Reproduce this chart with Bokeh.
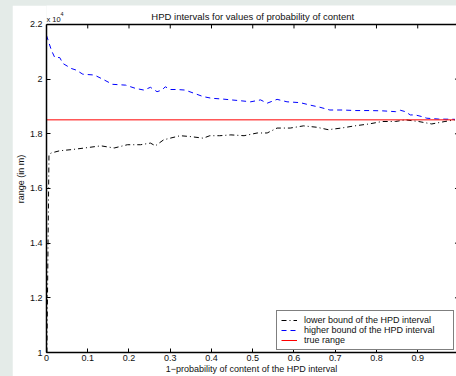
import math
from bokeh.plotting import figure
from bokeh.layouts import column
from bokeh.models import Range1d, FixedTicker, Label, Span
from bokeh.embed import file_html
from bokeh.resources import INLINE

# ---- data ----
hi_x = [0.000, 0.012, 0.020, 0.032, 0.040, 0.060, 0.072, 0.088, 0.116, 0.136,
        0.160, 0.192, 0.216, 0.236, 0.252, 0.268, 0.280, 0.288, 0.300, 0.316,
        0.336, 0.380, 0.400, 0.428, 0.448, 0.470, 0.495, 0.519, 0.535, 0.559,
        0.583, 0.615, 0.639, 0.663, 0.687, 0.718, 0.750, 0.782, 0.814, 0.846,
        0.858, 0.870, 0.882, 0.894, 0.910, 0.922, 0.950, 0.990]
hi_y = [21600, 21050, 20790, 20790, 20570, 20390, 20330, 20180, 20150, 20000,
        19810, 19780, 19660, 19600, 19700, 19540, 19600, 19720, 19620, 19620,
        19600, 19360, 19300, 19270, 19240, 19210, 19170, 19240, 19120, 19260,
        19170, 19140, 19050, 18970, 18870, 18870, 18850, 18850, 18840, 18810,
        18860, 18810, 18690, 18690, 18630, 18570, 18540, 18530]

lo_x = [0.001, 0.006, 0.012, 0.032, 0.060, 0.092, 0.132, 0.164, 0.196, 0.228,
        0.252, 0.264, 0.284, 0.300, 0.324, 0.348, 0.380, 0.396, 0.420, 0.447,
        0.479, 0.511, 0.535, 0.559, 0.591, 0.623, 0.655, 0.683, 0.715, 0.747,
        0.782, 0.814, 0.846, 0.870, 0.902, 0.934, 0.966, 0.990]
lo_y = [10000, 17250, 17300, 17380, 17420, 17480, 17560, 17480, 17600, 17600,
        17660, 17560, 17780, 17840, 17930, 17900, 17840, 17930, 17930, 17960,
        17930, 18030, 18030, 18210, 18210, 18290, 18240, 18150, 18210, 18290,
        18360, 18450, 18450, 18510, 18450, 18360, 18450, 18510]

true_x = [0.0, 0.99]
true_y = [18510, 18510]

x_ticks = [0.0, 0.1, 0.2, 0.3, 0.4, 0.5, 0.6, 0.7, 0.8, 0.9]
x_tick_labels = ["0", "0.1", "0.2", "0.3", "0.4", "0.5", "0.6", "0.7", "0.8", "0.9"]
y_ticks = [10000, 12000, 14000, 16000, 18000, 20000, 22000]
y_tick_labels = ["1", "1.2", "1.4", "1.6", "1.8", "2", "2.2"]
y_exponent = "4"

X_MIN, X_MAX = 0.0, 1.0          # axis limits of the original chart
Y_MIN, Y_MAX = 10000, 22000

FONT = "Liberation Sans"
INK = "#111111"

# frame runs to the top of the white panel, so the axes box top (Y_MAX)
# sits 19px below it (329px per 12000 units in the original)
y_top = Y_MAX + 19 * (Y_MAX - Y_MIN) / 329

p = figure(width=444, height=371, output_backend="svg", toolbar_location=None,
           x_range=Range1d(X_MIN, 0.994), y_range=Range1d(Y_MIN, y_top),
           min_border_left=30, min_border_right=0, min_border_top=0,
           min_border_bottom=23)
p.grid.visible = False
p.outline_line_color = None
p.background_fill_color = "white"
p.border_fill_color = "white"

def style_axis(ax):
    ax.axis_line_color = "black"
    ax.axis_line_width = 1.5
    ax.major_tick_in = 4
    ax.major_tick_out = 0
    ax.minor_tick_line_color = None
    ax.major_tick_line_color = "black"
    ax.major_label_text_font = FONT
    ax.major_label_text_font_size = "9px"
    ax.major_label_text_color = INK
    ax.axis_label_text_font = FONT
    ax.axis_label_text_font_size = "9px"
    ax.axis_label_text_font_style = "normal"
    ax.axis_label_text_color = INK

xa = p.xaxis[0]
style_axis(xa)
xa.ticker = FixedTicker(ticks=x_ticks)
xa.major_label_overrides = {t: l for t, l in zip(x_ticks, x_tick_labels)}
xa.axis_label = "1\u2212probability of content of the HPD interval"
xa.major_label_standoff = 2
xa.axis_label_standoff = 0

ya = p.yaxis[0]
style_axis(ya)
ya.ticker = FixedTicker(ticks=y_ticks)
ya.major_label_overrides = {t: l for t, l in zip(y_ticks, y_tick_labels)}
ya.axis_label = "range (in m)"
ya.major_label_standoff = 4
ya.axis_label_standoff = 1
ya.bounds = (Y_MIN, Y_MAX)

# top edge of the axes box with inward ticks
p.add_layout(Span(location=Y_MAX, dimension="width", line_color="black",
                  line_width=1.5))
p.ray(x=x_ticks, y=[Y_MAX] * len(x_ticks), length=4, length_units="screen",
      angle=-math.pi / 2, line_color="black", line_width=1)
# right edge ticks (box edge itself is just outside the window)
p.ray(x=[X_MAX] * len(y_ticks), y=y_ticks, length=4, length_units="screen",
      angle=math.pi, line_color="black", line_width=1)

p.line(lo_x, lo_y, color="black", line_width=1, line_dash="5 3 1 3",
       legend_label="lower bound of the HPD interval")
p.line(hi_x, hi_y, color="#0000ff", line_width=1, line_dash="5 4",
       legend_label="higher bound of the HPD interval")
p.line(true_x, true_y, color="#ff0000", line_width=1,
       legend_label="true range")

lg = p.legend[0]
lg.location = "bottom_right"
lg.margin = 2
lg.padding = 4
lg.spacing = 0
lg.border_line_color = "black"
lg.border_line_width = 1
lg.label_text_font = FONT
lg.label_text_font_size = "9px"
lg.label_text_color = INK
lg.label_height = 10
lg.label_width = 145
lg.glyph_height = 10
lg.glyph_width = 16
lg.label_standoff = 7
lg.background_fill_alpha = 1

# title and exponent drawn as labels above the axes box
p.add_layout(Label(x=(X_MIN + X_MAX) / 2, y=Y_MAX,
                   text="HPD intervals for values of probability of content",
                   text_font=FONT, text_font_size="9.5px", text_align="center",
                   text_baseline="alphabetic", y_offset=8, text_color=INK))
p.add_layout(Label(x=X_MIN, y=Y_MAX, text="x 10", text_font=FONT,
                   text_font_size="7.5px", text_baseline="alphabetic",
                   y_offset=5, text_color=INK))
p.add_layout(Label(x=X_MIN, y=Y_MAX, text=y_exponent, text_font=FONT,
                   text_font_size="5.5px", text_baseline="alphabetic",
                   x_offset=14, y_offset=10, text_color=INK))

page = column(p, styles={"background-color": "#e4ebe8",
                         "padding-left": "12px", "padding-top": "5px"})

open("out.html", "w").write(file_html(page, INLINE))
